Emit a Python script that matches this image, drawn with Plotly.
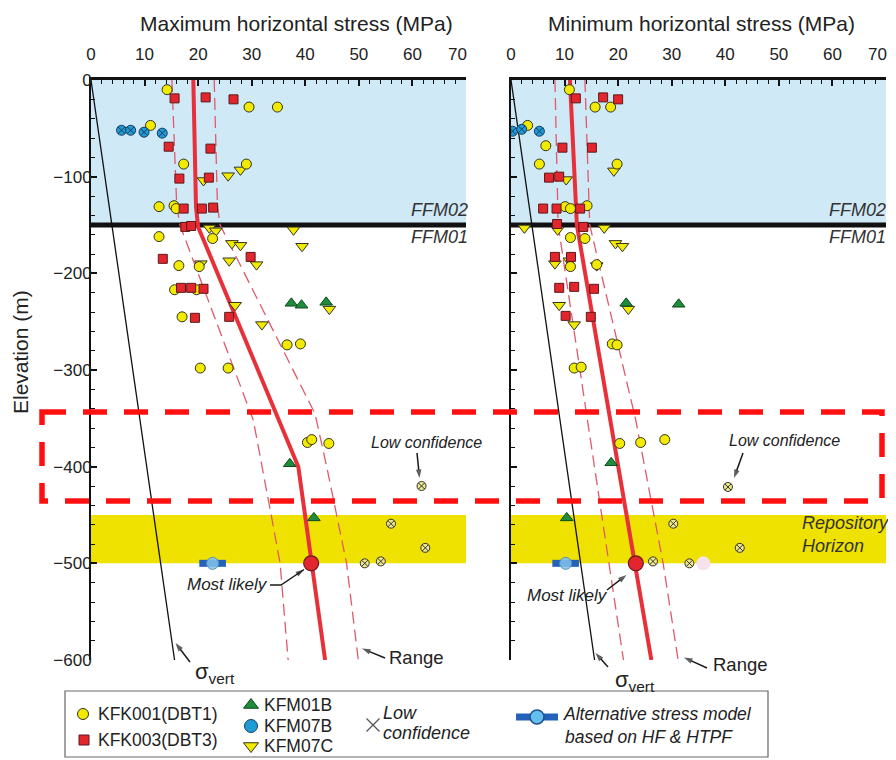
import plotly.graph_objects as go

# the page body adds an 8px offset; figure covers screen x 8..896, y 8..760
OFF = 8
W, H = 888, 752
SX1, SY1 = OFF + W, OFF + H
L0, L1 = 91, 466      # left panel pixel extent (screen)
R0, R1 = 511, 886     # right panel pixel extent (screen)
T, B = 80, 660        # top / bottom pixel of panels (screen)
FONT = "Liberation Sans, Arial, sans-serif"
TXT = "#222222"

# ---------------- data: Maximum horizontal stress (left) ----------------
SH_kfk001_x = [14.2, 29.5, 34.8, 11.1, 17.3, 29.0, 12.7, 15.5, 15.9, 12.7, 22.7, 16.4, 20.2,
               15.6, 19.7, 17.0, 36.6, 39.1, 20.4, 25.6, 40.4, 41.2, 44.4]
SH_kfk001_y = [-10, -28, -28, -47, -87, -87, -131, -130, -133, -162, -164, -192, -193,
               -217, -217, -245, -274, -273, -298, -298, -375, -372, -376]
SH_kfk003_x = [15.6, 21.4, 26.6, 14.5, 22.3, 16.5, 22.0, 17.3, 20.7, 22.8, 17.6, 18.7, 13.4,
               29.8, 16.8, 18.7, 21.0, 19.4, 25.8]
SH_kfk003_y = [-19, -18, -20, -69, -71, -102, -101, -133, -133, -132, -152, -151, -185,
               -183, -215, -215, -216, -246, -245]
SH_kfm01b_x = [37.4, 39.3, 43.9, 37.1, 41.6]
SH_kfm01b_y = [-231, -233, -230, -397, -453]
SH_kfm07b_x = [5.7, 7.4, 9.9, 13.3]
SH_kfm07b_y = [-52, -52, -54, -55]
SH_kfm07c_x = [27.9, 21.0, 25.6, 22.1, 23.3, 37.8, 26.3, 27.9, 39.4, 20.5, 25.8, 30.9, 26.9, 44.5, 31.9]
SH_kfm07c_y = [-93, -104, -99, -153, -156, -155, -169, -171, -172, -190, -187, -191, -233, -237, -253]
SH_low_x = [61.7, 56.0, 62.4, 51.1, 54.1]
SH_low_y = [-420, -459, -484, -500, -498]
SH_likely_pt = (41.1, -500)
SH_alt_pt = (22.7, -500)
SH_line_x = [19.1, 19.6, 20.0, 38.7, 41.2, 43.7]
SH_line_y = [0, -131, -152, -400, -500, -600]
SH_rlo_x = [15.1, 16.0, 16.6, 30.3, 33.7, 35.3, 36.8]
SH_rlo_y = [0, -130, -150, -352, -452, -500, -600]
SH_rhi_x = [23.0, 23.6, 24.1, 41.8, 44.0, 45.9, 47.7, 49.9]
SH_rhi_y = [0, -130, -150, -345, -400, -450, -500, -600]

# ---------------- data: Minimum horizontal stress (right) ----------------
Sh_kfk001_x = [10.9, 15.7, 18.6, 3.1, 6.5, 5.3, 19.8, 10.1, 11.1, 14.2, 11.1, 13.8, 11.1, 16.0,
               18.9, 19.8, 11.8, 13.1, 20.3, 24.2, 28.7]
Sh_kfk001_y = [-10, -28, -28, -47, -68, -87, -87, -131, -133, -130, -163, -164, -193, -191,
               -273, -274, -298, -297, -376, -375, -372]
Sh_kfk003_x = [12.1, 17.2, 20.0, 9.6, 15.1, 7.1, 9.0, 6.0, 8.5, 12.9, 8.6, 13.5, 8.2, 11.2,
               9.0, 11.8, 15.5, 10.2, 14.9]
Sh_kfk003_y = [-19, -18, -20, -70, -70, -101, -100, -133, -133, -133, -149, -152, -183, -183,
               -215, -214, -216, -244, -245]
Sh_kfm01b_x = [21.5, 31.3, 18.7, 10.4]
Sh_kfm01b_y = [-231, -232, -396, -453]
Sh_kfm07b_x = [0.3, 2.0, 5.3]
Sh_kfm07b_y = [-53, -51, -53]
Sh_kfm07c_x = [19.2, 10.3, 2.5, 8.7, 17.4, 19.5, 20.8, 8.2, 10.9, 16.0, 9.0, 21.9, 11.8]
Sh_kfm07c_y = [-94, -103, -153, -155, -153, -169, -172, -190, -187, -192, -233, -237, -253]
Sh_low_x = [40.5, 30.3, 42.7, 26.5, 33.3]
Sh_low_y = [-421, -459, -484, -498, -500]
Sh_pink_pt = (35.9, -500)
Sh_likely_pt = (23.3, -500)
Sh_alt_pt = (10.2, -500)
Sh_line_x = [11.0, 12.3, 26.2]
Sh_line_y = [0, -150, -600]
Sh_rlo_x = [8.2, 8.8, 21.0]
Sh_rlo_y = [0, -150, -600]
Sh_rhi_x = [13.8, 14.7, 23.3, 28.4, 31.2]
Sh_rhi_y = [0, -150, -352, -500, -600]

# vertical stress
sv_x = [0, 15.6]
sv_y = [0, -600]

# axis ticks (the last label "70" is drawn separately, nudged inward as in the original)
x_ticks = [0, 10, 20, 30, 40, 50, 60, 70]
x_ticktext = ["0", "10", "20", "30", "40", "50", "60", ""]
x_last_label = "70"
y_ticks = [0, -100, -200, -300, -400, -500, -600]
y_ticktext = ["0", "\u2212100", "\u2212200", "\u2212300", "\u2212400", "\u2212500", "\u2212600"]

# ---------------- styles ----------------
OUT = "#333322"
st_yc = dict(symbol="circle", size=10, color="#f2ea00", line=dict(color=OUT, width=1))
st_rs = dict(symbol="square", size=9, color="#e3262e", line=dict(color="#5a1a1a", width=1))
st_gt = dict(symbol="triangle-up", size=11, color="#1e8c3a", line=dict(color="#0d4a1e", width=1))
st_bc = dict(symbol="circle-x", size=10, color="#1e9ad6", line=dict(color="#1a3d5c", width=1))
st_yt = dict(symbol="triangle-down", size=11, color="#f2ea00", line=dict(color=OUT, width=1))
st_lc = dict(symbol="circle-x", size=9, color="#eee88a", line=dict(color="#333333", width=1))
RED = "#e8303a"
RED_D = "#e05a6a"

fig = go.Figure()


def panel(xa, ya, d):
    kw = dict(xaxis=xa, yaxis=ya, showlegend=False, hoverinfo="skip")
    fig.add_trace(go.Scatter(x=sv_x, y=sv_y, mode="lines", line=dict(color="#111111", width=1.3), **kw))
    fig.add_trace(go.Scatter(x=d["lo_x"], y=d["lo_y"], mode="lines",
                             line=dict(color=RED_D, width=1.3, dash="12px,6px"), **kw))
    fig.add_trace(go.Scatter(x=d["hi_x"], y=d["hi_y"], mode="lines",
                             line=dict(color=RED_D, width=1.3, dash="12px,6px"), **kw))
    fig.add_trace(go.Scatter(x=d["ln_x"], y=d["ln_y"], mode="lines", line=dict(color=RED, width=4), **kw))
    fig.add_trace(go.Scatter(x=d["c3_x"], y=d["c3_y"], mode="markers", marker=st_yt, **kw))
    fig.add_trace(go.Scatter(x=d["c1_x"], y=d["c1_y"], mode="markers", marker=st_yc, **kw))
    fig.add_trace(go.Scatter(x=d["c2_x"], y=d["c2_y"], mode="markers", marker=st_rs, **kw))
    fig.add_trace(go.Scatter(x=d["g_x"], y=d["g_y"], mode="markers", marker=st_gt, **kw))
    fig.add_trace(go.Scatter(x=d["b_x"], y=d["b_y"], mode="markers", marker=st_bc, **kw))
    fig.add_trace(go.Scatter(x=d["l_x"], y=d["l_y"], mode="markers", marker=st_lc, **kw))
    if "pink" in d:
        fig.add_trace(go.Scatter(x=[d["pink"][0]], y=[d["pink"][1]], mode="markers",
                                 marker=dict(symbol="circle", size=14, color="#f6e2ec"), **kw))
    ax_, ay_ = d["alt"]
    fig.add_trace(go.Scatter(x=[ax_], y=[ay_], mode="markers",
                             marker=dict(symbol="line-ew", size=19, line=dict(color="#2362b8", width=7)), **kw))
    fig.add_trace(go.Scatter(x=[ax_], y=[ay_], mode="markers",
                             marker=dict(symbol="circle", size=12, color="rgba(130,195,235,0.85)",
                                         line=dict(color="#5a8fbf", width=1)), **kw))
    mx, my = d["likely"]
    fig.add_trace(go.Scatter(x=[mx], y=[my], mode="markers",
                             marker=dict(symbol="circle", size=15, color="#e3262e",
                                         line=dict(color="#6a1a1a", width=1.2)), **kw))


panel("x", "y", dict(lo_x=SH_rlo_x, lo_y=SH_rlo_y, hi_x=SH_rhi_x, hi_y=SH_rhi_y,
                     ln_x=SH_line_x, ln_y=SH_line_y,
                     c1_x=SH_kfk001_x, c1_y=SH_kfk001_y, c2_x=SH_kfk003_x, c2_y=SH_kfk003_y,
                     g_x=SH_kfm01b_x, g_y=SH_kfm01b_y, b_x=SH_kfm07b_x, b_y=SH_kfm07b_y,
                     c3_x=SH_kfm07c_x, c3_y=SH_kfm07c_y, l_x=SH_low_x, l_y=SH_low_y,
                     alt=SH_alt_pt, likely=SH_likely_pt))
panel("x2", "y2", dict(lo_x=Sh_rlo_x, lo_y=Sh_rlo_y, hi_x=Sh_rhi_x, hi_y=Sh_rhi_y,
                       ln_x=Sh_line_x, ln_y=Sh_line_y,
                       c1_x=Sh_kfk001_x, c1_y=Sh_kfk001_y, c2_x=Sh_kfk003_x, c2_y=Sh_kfk003_y,
                       g_x=Sh_kfm01b_x, g_y=Sh_kfm01b_y, b_x=Sh_kfm07b_x, b_y=Sh_kfm07b_y,
                       c3_x=Sh_kfm07c_x, c3_y=Sh_kfm07c_y, l_x=Sh_low_x, l_y=Sh_low_y,
                       alt=Sh_alt_pt, likely=Sh_likely_pt, pink=Sh_pink_pt))

# ---------------- pointer arrows (screen-pixel overlay axis x3/y3) ----------------
arrows = [
    ([190, 175.5], [662, 643]),            # left sigma_vert
    ([385, 362], [658, 648.5]),            # left Range
    ([270, 281, 304], [585, 585, 569.5]),  # left Most likely
    ([417, 419.5], [453, 478]),            # left Low confidence
    ([608, 595.5], [667, 653]),            # right sigma_vert
    ([707, 684], [668, 657.5]),            # right Range
    ([607, 626.5], [590, 575]),            # right Most likely
    ([743, 734], [453, 478]),              # right Low confidence
]
for axs, ays in arrows:
    n = len(axs)
    fig.add_trace(go.Scatter(
        x=axs, y=ays, xaxis="x3", yaxis="y3", mode="lines+markers", showlegend=False, hoverinfo="skip",
        line=dict(color="#1a1a1a", width=1.5),
        marker=dict(symbol=["circle"] * (n - 1) + ["arrow"], size=[0] * (n - 1) + [9],
                    angleref="previous", color="#1a1a1a", line=dict(width=0))))

# ---------------- legend (screen-pixel overlay axis x3/y3) ----------------
kw3 = dict(xaxis="x3", yaxis="y3", showlegend=False, hoverinfo="skip", mode="markers")
leg_items = [
    (83, 714, dict(symbol="circle", size=11, color="#f2ea00", line=dict(color=OUT, width=1))),
    (84, 740, dict(symbol="square", size=10, color="#e3262e", line=dict(color="#5a1a1a", width=1))),
    (251, 705, dict(symbol="triangle-up", size=13, color="#1e8c3a", line=dict(color="#0d4a1e", width=1))),
    (251, 726, dict(symbol="circle", size=13, color="#1e9ad6", line=dict(color="#1a3d5c", width=1))),
    (251, 746, dict(symbol="triangle-down", size=13, color="#f2ea00", line=dict(color=OUT, width=1))),
    (373, 725, dict(symbol="x-thin", size=13, line=dict(color="#555555", width=1.3))),
    (537, 717, dict(symbol="line-ew", size=30, line=dict(color="#2362b8", width=7))),
    (537, 717, dict(symbol="circle", size=14, color="#62bff0", line=dict(color="#20508a", width=1.5))),
]
for lx, ly, mk in leg_items:
    fig.add_trace(go.Scatter(x=[lx], y=[ly], marker=mk, **kw3))

ann = []


def txt(x, y, s, xref="x3", yref="y3", size=17, xanchor="center", italic=False, angle=0, color=TXT):
    ann.append(dict(x=x, y=y, xref=xref, yref=yref, text=(f"<i>{s}</i>" if italic else s),
                    showarrow=False, xanchor=xanchor, yanchor="middle", textangle=angle,
                    font=dict(family=FONT, size=size, color=color)))


# titles
txt(296, 23, "Maximum horizontal stress (MPa)", size=21)
txt(701, 23, "Minimum horizontal stress (MPa)", size=21)
txt(20, 352, "Elevation (m)", size=21, angle=-90)

# last x tick labels, nudged inside the frame
txt(457, 54, x_last_label, size=17)
txt(877, 54, x_last_label, size=17)

# legend texts
txt(96, 714, "KFK001(DBT1)", size=17.5, xanchor="left")
txt(96, 740, "KFK003(DBT3)", size=17.5, xanchor="left")
txt(262, 705, "KFM01B", size=17.5, xanchor="left")
txt(262, 726, "KFM07B", size=17.5, xanchor="left")
txt(262, 746, "KFM07C", size=17.5, xanchor="left")
txt(381, 713, "Low", size=18, xanchor="left", italic=True)
txt(381, 733, "confidence", size=18, xanchor="left", italic=True)
txt(561, 714, "Alternative stress model", size=17.5, xanchor="left", italic=True)
txt(563, 737, "based on HF &amp; HTPF", size=17.5, xanchor="left", italic=True)

# formation labels (screen pixels)
for xr_ in (470, 888):
    txt(xr_, 210, "FFM02", size=18, xanchor="right", italic=True, color="#333333")
    txt(xr_, 237, "FFM01", size=18, xanchor="right", italic=True, color="#333333")
ann.append(dict(x=54.0, y=-470, xref="x2", yref="y2", text="<i>Repository<br>Horizon</i>",
                showarrow=False, xanchor="left", yanchor="middle", align="left",
                font=dict(family=FONT, size=18, color="#333333")))

# panel call-outs
txt(62.7, -374.5, "Low confidence", "x", "y", size=16, italic=True)
txt(25.4, -522, "Most likely", "x", "y", size=17, italic=True)
txt(215, 673, "σ<sub>vert</sub>", size=22)
txt(416, 657, "Range", size=18.5)
txt(51.1, -373, "Low confidence", "x2", "y2", size=16, italic=True)
txt(10.5, -533, "Most likely", "x2", "y2", size=17, italic=True)
txt(635, 681, "σ<sub>vert</sub>", size=22)
txt(740, 664, "Range", size=18.5)

# ---------------- shapes ----------------
shapes = []
for xr, yr in (("x", "y"), ("x2", "y2")):
    shapes.append(dict(type="rect", xref=xr, yref=yr, x0=0, x1=70, y0=-150, y1=0,
                       fillcolor="#d0e9f7", line=dict(width=0), layer="below"))
    shapes.append(dict(type="rect", xref=xr, yref=yr, x0=0, x1=70, y0=-500, y1=-450,
                       fillcolor="#efe200", line=dict(width=0), layer="below"))
    shapes.append(dict(type="line", xref=xr, yref=yr, x0=-0.4, x1=70.4, y0=-150, y1=-150,
                       line=dict(color="#111111", width=5), layer="below"))
# red dashed highlight box
shapes.append(dict(type="rect", xref="x3", yref="y3", x0=42, x1=882, y0=412, y1=501,
                   line=dict(color="#ff1010", width=5.5, dash="24px,17px"), layer="above"))
# legend frame
shapes.append(dict(type="rect", xref="x3", yref="y3", x0=65, x1=768, y0=691, y1=757,
                   line=dict(color="#666666", width=1.2), layer="above"))

xdomL = [(L0 - OFF) / W, (L1 - OFF) / W]
xdomR = [(R0 - OFF) / W, (R1 - OFF) / W]
ydom = [(SY1 - B) / H, (SY1 - T) / H]

xcommon = dict(range=[0, 70], side="top", tickmode="array", tickvals=x_ticks, ticktext=x_ticktext,
               ticks="inside", ticklen=6, tickwidth=1.5, tickcolor="#111111",
               minor=dict(dtick=2, tick0=0, ticks="inside", ticklen=4, tickwidth=1, tickcolor="#111111"),
               showline=True, linewidth=3, linecolor="#111111", showgrid=False, zeroline=False,
               tickfont=dict(family=FONT, size=17, color=TXT), ticklabelstandoff=10,
               ticklabeloverflow="allow", fixedrange=True)
ycommon = dict(range=[-600, 0], tickmode="array", tickvals=y_ticks, ticktext=y_ticktext, ticks="inside",
               ticklen=6, tickwidth=1.5, tickcolor="#111111",
               minor=dict(dtick=20, tick0=0, ticks="inside", ticklen=4, tickwidth=1, tickcolor="#111111"),
               showline=True, linewidth=2, linecolor="#111111", showgrid=False, zeroline=False,
               tickfont=dict(family=FONT, size=17, color=TXT), ticklabelstandoff=-6, fixedrange=True)

fig.update_layout(
    width=W, height=H, margin=dict(l=0, r=0, t=0, b=0, autoexpand=False),
    paper_bgcolor="white", plot_bgcolor="rgba(0,0,0,0)",
    font=dict(family=FONT, color=TXT),
    xaxis=dict(domain=xdomL, anchor="y", **xcommon),
    yaxis=dict(domain=ydom, anchor="x", **ycommon),
    xaxis2=dict(domain=xdomR, anchor="y2", **xcommon),
    yaxis2=dict(domain=ydom, anchor="x2", showticklabels=False, **ycommon),
    xaxis3=dict(domain=[0, 1], range=[OFF, SX1], anchor="y3", visible=False, fixedrange=True),
    yaxis3=dict(domain=[0, 1], range=[SY1, OFF], anchor="x3", visible=False, fixedrange=True),
    shapes=shapes, annotations=ann, showlegend=False,
)

fig.write_html("out.html")
